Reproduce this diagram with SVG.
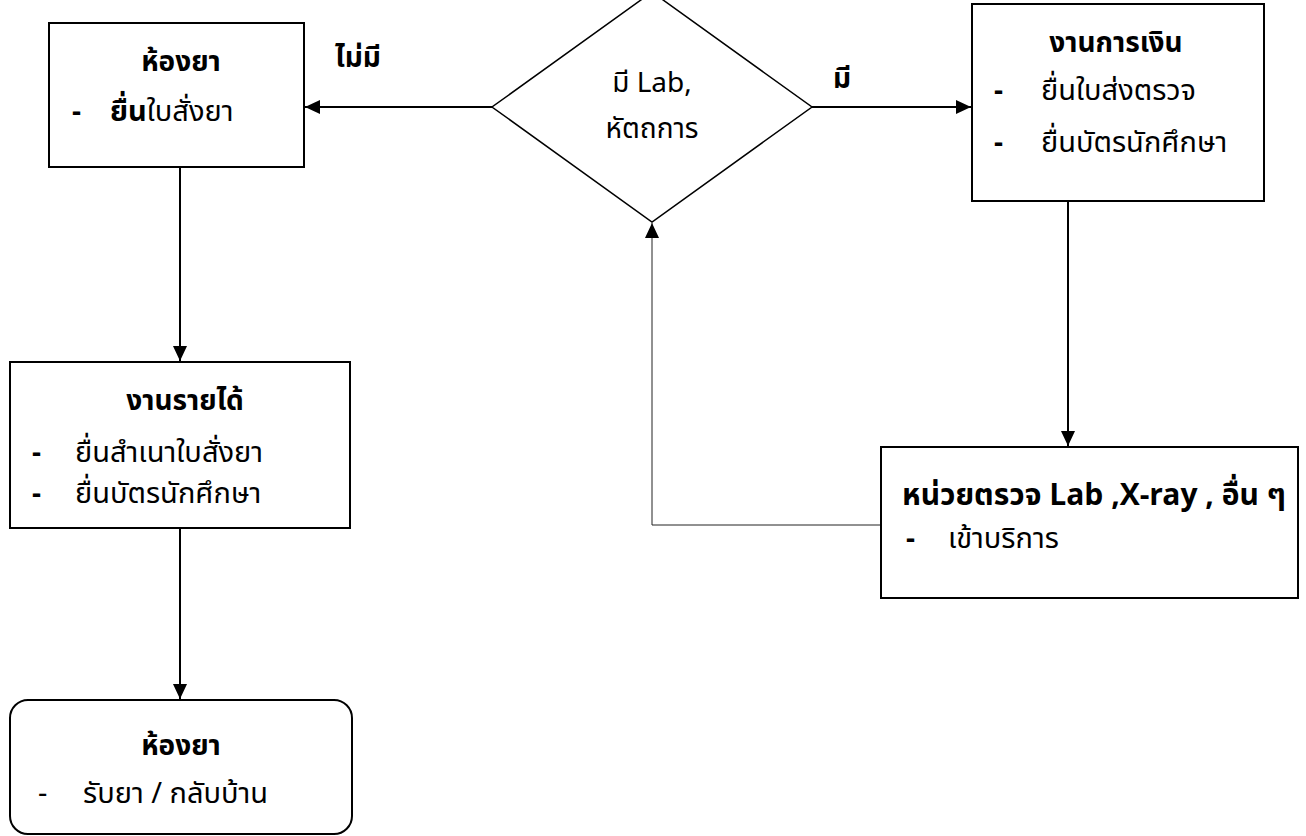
<svg xmlns="http://www.w3.org/2000/svg" width="1306" height="836" viewBox="0 0 1306 836">
<defs>
<marker id="arr" viewBox="0 0 10 10" refX="10" refY="5" markerWidth="15" markerHeight="14" markerUnits="userSpaceOnUse" orient="auto" preserveAspectRatio="none">
<path d="M0,0 L10,5 L0,10 z" fill="#000"/>
</marker>
</defs>
<style>
.box{fill:#fff;stroke:#000;stroke-width:2}
.ln{fill:none;stroke:#000;stroke-width:2}
.fb{fill:none;stroke:#222;stroke-width:1}
text{font-family:"Noto Sans Thai","Noto Sans","DejaVu Sans",sans-serif;font-size:29px;fill:#000}
.b{font-weight:bold;font-size:28px}
.c{text-anchor:middle}
</style>
<rect width="1306" height="836" fill="#fff"/>
<g id="connectors">
<line class="ln" x1="492" y1="107" x2="305" y2="107" marker-end="url(#arr)"/>
<line class="ln" x1="812" y1="107" x2="971" y2="107" marker-end="url(#arr)"/>
<line class="ln" x1="180" y1="167" x2="180" y2="361" marker-end="url(#arr)"/>
<line class="ln" x1="180" y1="528" x2="180" y2="699" marker-end="url(#arr)"/>
<line class="ln" x1="1068" y1="201" x2="1068" y2="446" marker-end="url(#arr)"/>
<polyline class="fb" points="881,525 652,525 652,223" marker-end="url(#arr)"/>
<text class="b" x="335" y="67">ไม่มี</text>
<text class="b" x="833" y="88">มี</text>
</g>
<g id="decision">
<polygon class="box" points="652,-8 812,107 652,222 492,107" style="stroke-width:1.5"/>
<text class="c" x="652" y="92" style="font-size:28px">มี Lab,</text>
<text class="c" x="652" y="138" style="font-size:28px">หัตถการ</text>
</g>
<g id="pharmacy1">
<rect class="box" x="49" y="23" width="255" height="144"/>
<text class="b c" x="181" y="71">ห้องยา</text>
<text class="b" x="72" y="121">-</text>
<text x="110" y="121"><tspan class="b" style="font-size:29px">ยื่น</tspan>ใบสั่งยา</text>
</g>
<g id="finance">
<rect class="box" x="972" y="4" width="292" height="197"/>
<text class="b c" x="1116" y="52">งานการเงิน</text>
<text class="b" x="994" y="100">-</text>
<text x="1041" y="100">ยื่นใบส่งตรวจ</text>
<text class="b" x="994" y="152">-</text>
<text x="1041" y="152">ยื่นบัตรนักศึกษา</text>
</g>
<g id="revenue">
<rect class="box" x="10" y="362" width="340" height="166"/>
<text class="b c" x="185" y="410">งานรายได้</text>
<text class="b" x="32" y="462">-</text>
<text x="75" y="462">ยื่นสำเนาใบสั่งยา</text>
<text class="b" x="32" y="503">-</text>
<text x="75" y="503">ยื่นบัตรนักศึกษา</text>
</g>
<g id="lab">
<rect class="box" x="881" y="447" width="417" height="151"/>
<text class="b" x="902" y="505" style="font-size:30px">หน่วยตรวจ Lab ,X-ray , อื่น ๆ</text>
<text class="b" x="906" y="548">-</text>
<text x="948" y="548">เข้าบริการ</text>
</g>
<g id="pharmacy2">
<rect class="box" x="10" y="700" width="342" height="134" rx="18"/>
<text class="b c" x="181" y="755">ห้องยา</text>
<text x="38" y="803">-</text>
<text x="83" y="803">รับยา / กลับบ้าน</text>
</g>
</svg>
